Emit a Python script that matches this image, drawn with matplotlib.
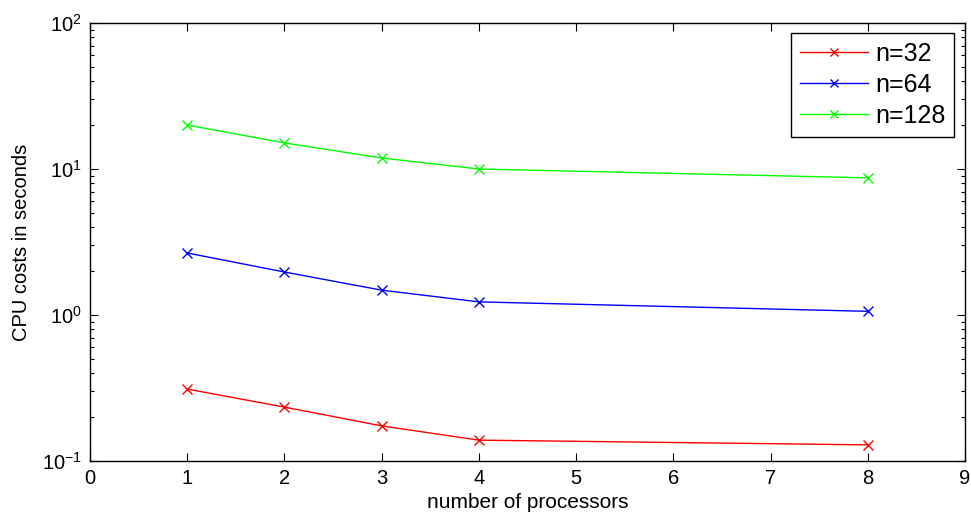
import matplotlib
matplotlib.use("Agg")
import matplotlib.pyplot as plt
from matplotlib.ticker import LogLocator, FixedLocator

plt.rcParams['font.family'] = ['Liberation Sans', 'DejaVu Sans']

processors = [1, 2, 3, 4, 8]
cpu_n32 = [0.311, 0.234, 0.174, 0.139, 0.129]
cpu_n64 = [2.66, 1.97, 1.48, 1.23, 1.06]
cpu_n128 = [20.0, 15.1, 11.9, 10.0, 8.7]
labels = ['n=32', 'n=64', 'n=128']
colors = ['#ff0000', '#0000ff', '#00ff00']

fig = plt.figure(figsize=(9.71, 5.18), dpi=100)
ax = fig.add_axes([0.0927, 0.110, 0.9011, 0.8456])

for ys, lab, c in zip([cpu_n32, cpu_n64, cpu_n128], labels, colors):
    ax.plot(processors, ys, color=c, marker='x', markersize=7, linewidth=1.0,
            markeredgewidth=1.0, label=lab)

ax.set_yscale('log')
ax.set_xlim(0, 9)
ax.set_ylim(0.1, 100)
ax.xaxis.set_major_locator(FixedLocator(range(10)))
ax.yaxis.set_major_locator(LogLocator(base=10, numticks=10))
ax.yaxis.set_minor_locator(LogLocator(base=10, subs=range(2, 10), numticks=20))

ax.tick_params(which='both', direction='in', top=True, right=True, labelsize=14.5)
ax.tick_params(which='major', length=6, width=0.8, pad=6)
ax.tick_params(which='minor', length=3, width=0.8)
for s in ax.spines.values():
    s.set_linewidth(1.0)

ax.set_xlabel('number of processors', fontsize=15, labelpad=3)
ax.set_ylabel('CPU costs in seconds', fontsize=14.5, labelpad=8)

leg = ax.legend(loc='upper right', fontsize=18, fancybox=False, framealpha=1,
                edgecolor='black', borderpad=0.35, handlelength=2.74,
                handletextpad=0.28, labelspacing=0.28, borderaxespad=0.42,
                markerscale=0.8)
leg.get_frame().set_linewidth(1.0)

fig.savefig('out.png', dpi=100)
